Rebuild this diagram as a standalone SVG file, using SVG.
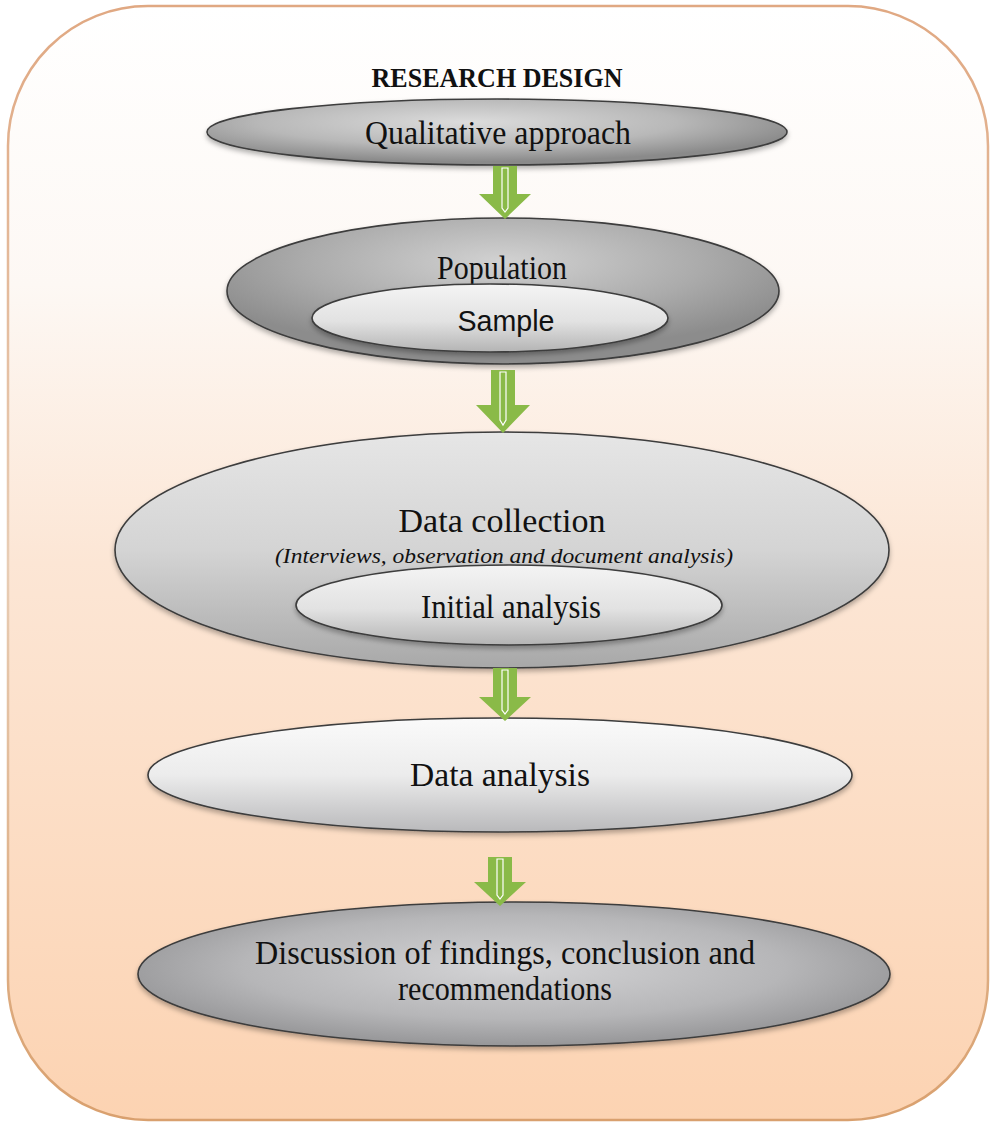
<svg xmlns="http://www.w3.org/2000/svg" width="993" height="1127" viewBox="0 0 993 1127">
<defs>
<linearGradient id="bg" x1="0" y1="0" x2="0" y2="1">
<stop offset="0" stop-color="#ffffff"/>
<stop offset="0.25" stop-color="#fdf8f4"/>
<stop offset="0.5" stop-color="#fce6d5"/>
<stop offset="1" stop-color="#fcd3b2"/>
</linearGradient>
<linearGradient id="bgStroke" x1="0" y1="0" x2="0" y2="1">
<stop offset="0" stop-color="#e0a882"/>
<stop offset="0.5" stop-color="#e8cdb5"/>
<stop offset="1" stop-color="#d9a06e"/>
</linearGradient>
<radialGradient id="gDark" cx="0.45" cy="0.35" r="0.6">
<stop offset="0" stop-color="#dcdcdc"/>
<stop offset="0.6" stop-color="#b8b8b8"/>
<stop offset="1" stop-color="#8a8a8a"/>
</radialGradient>
<radialGradient id="gPop" cx="0.5" cy="0.3" r="0.6">
<stop offset="0" stop-color="#d2d2d2"/>
<stop offset="0.6" stop-color="#ababab"/>
<stop offset="1" stop-color="#8c8c8c"/>
</radialGradient>
<linearGradient id="gLight" x1="0" y1="0" x2="0" y2="1">
<stop offset="0" stop-color="#f4f4f4"/>
<stop offset="0.55" stop-color="#e2e2e2"/>
<stop offset="1" stop-color="#b4b4b4"/>
</linearGradient>
<linearGradient id="gCollect" x1="0" y1="0" x2="0" y2="1">
<stop offset="0" stop-color="#e6e6e6"/>
<stop offset="0.5" stop-color="#d4d4d4"/>
<stop offset="1" stop-color="#a8a8a8"/>
</linearGradient>
<linearGradient id="gAnal" x1="0" y1="0" x2="0" y2="1">
<stop offset="0" stop-color="#fafafa"/>
<stop offset="0.5" stop-color="#ececec"/>
<stop offset="1" stop-color="#b9b9bb"/>
</linearGradient>
<radialGradient id="gDisc" cx="0.5" cy="0.45" r="0.6">
<stop offset="0" stop-color="#d4d4d6"/>
<stop offset="0.6" stop-color="#b6b6b8"/>
<stop offset="1" stop-color="#8e8e90"/>
</radialGradient>
<filter id="sh" x="-10%" y="-10%" width="120%" height="130%">
<feDropShadow dx="0" dy="3" stdDeviation="2.5" flood-color="#000" flood-opacity="0.3"/>
</filter>
</defs>
<style>
.el{stroke:#3c3c3c;stroke-width:1.6;filter:url(#sh)}
.t{font-family:"Liberation Serif","Times New Roman",serif;fill:#111;text-anchor:middle}
.s{font-family:"Liberation Sans",Arial,sans-serif;fill:#111;text-anchor:middle}
.ar{fill:#8aba48}
.arl{fill:none;stroke:#ffffff;stroke-width:1.2}
</style>
<g id="background">
<rect x="8" y="6" width="980" height="1114" rx="140" ry="140" fill="url(#bg)" stroke="url(#bgStroke)" stroke-width="2.5"/>
</g>
<g id="title">
<text class="t" x="497" y="87" font-size="27" font-weight="bold" textLength="251" lengthAdjust="spacingAndGlyphs">RESEARCH DESIGN</text>
</g>
<g id="qualitative">
<ellipse class="el" cx="497" cy="132" rx="290" ry="33" fill="url(#gDark)"/>
<text class="t" x="498" y="144" font-size="34" textLength="266" lengthAdjust="spacingAndGlyphs">Qualitative approach</text>
</g>
<g id="population">
<ellipse class="el" cx="503" cy="291" rx="276" ry="73" fill="url(#gPop)"/>
<text class="t" x="502" y="279" font-size="34" textLength="130" lengthAdjust="spacingAndGlyphs">Population</text>
<g id="sample">
<ellipse class="el" cx="490" cy="318" rx="178" ry="34" fill="url(#gLight)"/>
<text class="s" x="506" y="331" font-size="29" textLength="97" lengthAdjust="spacingAndGlyphs">Sample</text>
</g>
</g>
<g id="data-collection">
<ellipse class="el" cx="502" cy="550" rx="387" ry="118" fill="url(#gCollect)"/>
<text class="t" x="502" y="532" font-size="34" textLength="207" lengthAdjust="spacingAndGlyphs">Data collection</text>
<text class="t" x="504" y="563" font-size="22" font-style="italic" textLength="458" lengthAdjust="spacingAndGlyphs">(Interviews, observation and document analysis)</text>
<g id="initial-analysis">
<ellipse class="el" cx="509" cy="605" rx="213" ry="40" fill="url(#gLight)"/>
<text class="t" x="511" y="618" font-size="34" textLength="180" lengthAdjust="spacingAndGlyphs">Initial analysis</text>
</g>
</g>
<g id="data-analysis">
<ellipse class="el" cx="500" cy="775" rx="352" ry="57" fill="url(#gAnal)"/>
<text class="t" x="500" y="786" font-size="34" textLength="180" lengthAdjust="spacingAndGlyphs">Data analysis</text>
</g>
<g id="discussion">
<ellipse class="el" cx="514" cy="974" rx="376" ry="72" fill="url(#gDisc)"/>
<text class="t" x="505" y="964" font-size="34" textLength="500" lengthAdjust="spacingAndGlyphs">Discussion of findings, conclusion and</text>
<text class="t" x="505" y="1000" font-size="34" textLength="214" lengthAdjust="spacingAndGlyphs">recommendations</text>
</g>
<g id="connectors">
<g id="arrow1">
<path class="ar" d="M493,166 H517 V194 H531 L505,219 L479,194 H493 Z"/>
<path class="arl" d="M502,168 H508 V208 L505,212 L502,208 Z"/>
</g>
<g id="arrow2">
<path class="ar" d="M491,370 H515 V405 H530 L503,433 L476,405 H491 Z"/>
<path class="arl" d="M500,372 H506 V420 L503,425 L500,420 Z"/>
</g>
<g id="arrow3">
<path class="ar" d="M493,668 H517 V697 H531 L505,721 L479,697 H493 Z"/>
<path class="arl" d="M502,670 H508 V710 L505,714 L502,710 Z"/>
</g>
<g id="arrow4">
<path class="ar" d="M488,857 H512 V882 H526 L500,906 L474,882 H488 Z"/>
<path class="arl" d="M497,859 H503 V895 L500,899 L497,895 Z"/>
</g>
</g>
</svg>
